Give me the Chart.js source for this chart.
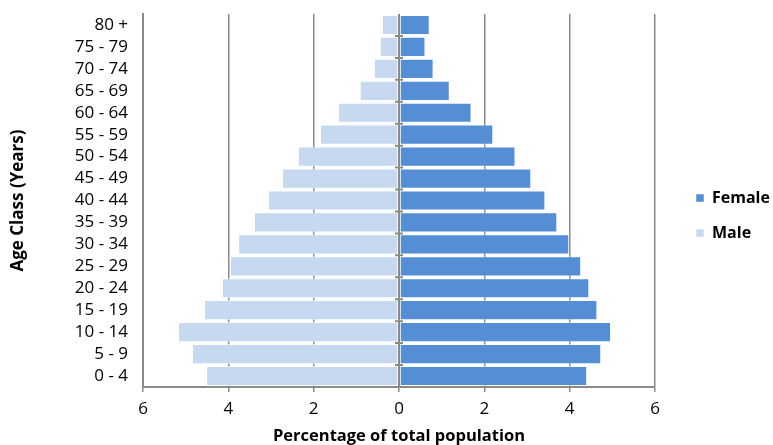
<!DOCTYPE html>
<html>
<head>
<meta charset="utf-8">
<script src="https://cdn.jsdelivr.net/npm/chart.js@4"></script>
<style>
  html, body { margin: 0; padding: 0; background: #fff; }
  #wrap { width: 773px; height: 445px; }
</style>
</head>
<body>
<div id="wrap"><canvas id="pyramid"></canvas></div>
<script>
const ageClasses = ['80 +', '75 - 79', '70 - 74', '65 - 69', '60 - 64', '55 - 59', '50 - 54', '45 - 49',
  '40 - 44', '35 - 39', '30 - 34', '25 - 29', '20 - 24', '15 - 19', '10 - 14', '5 - 9', '0 - 4'];
const female = [0.72, 0.62, 0.81, 1.19, 1.70, 2.21, 2.73, 3.10, 3.43, 3.71, 3.99, 4.27, 4.46, 4.65, 4.97, 4.74, 4.41];
const male = [0.40, 0.45, 0.59, 0.92, 1.43, 1.85, 2.37, 2.74, 3.07, 3.40, 3.77, 3.96, 4.15, 4.57, 5.18, 4.85, 4.52];
const xTicks = [-6, -4, -2, 0, 2, 4, 6];

const axisGray = '#8a8a8a';
const font = "'Open Sans', sans-serif";

// zero line with small ticks between age classes, drawn over the bars
const zeroLine = {
  id: 'zeroLine',
  afterDatasetsDraw(chart) {
    const { ctx, chartArea, scales } = chart;
    const x0 = scales.x.getPixelForValue(0);
    ctx.save();
    ctx.strokeStyle = axisGray;
    ctx.lineWidth = 2;
    ctx.beginPath();
    ctx.moveTo(x0, chartArea.top);
    ctx.lineTo(x0, chartArea.bottom);
    for (let i = 1; i < ageClasses.length; i++) {
      const y = scales.y.getPixelForValue(i - 0.5);
      ctx.moveTo(x0 - 4, y);
      ctx.lineTo(x0 + 4, y);
    }
    ctx.stroke();
    ctx.restore();
  }
};

// fixed legend width, then nudge the legend to where the original has it
const legendPlace = {
  id: 'legendPlace',
  beforeInit(chart) {
    const fit = chart.legend.fit;
    chart.legend.fit = function () {
      fit.call(this);
      this.width = 118;
    };
  },
  afterLayout(chart) {
    const lg = chart.legend;
    const w = lg.right - lg.left;
    lg.left = 696 - 19;
    lg.right = lg.left + w;
    const h = lg.bottom - lg.top;
    lg.top = 171;
    lg.bottom = lg.top + h;
  }
};

new Chart(document.getElementById('pyramid'), {
  type: 'bar',
  data: {
    labels: ageClasses,
    datasets: [
      {
        label: 'Female',
        data: female,
        backgroundColor: '#558ED5',
        borderColor: 'rgba(255,255,255,0.45)',
        borderWidth: 1,
        borderSkipped: false,
        categoryPercentage: 0.92,
        barPercentage: 1
      },
      {
        label: 'Male',
        data: male.map(v => -v),
        backgroundColor: '#C6D9F1',
        borderColor: 'rgba(255,255,255,0.6)',
        borderWidth: 1,
        borderSkipped: false,
        categoryPercentage: 0.92,
        barPercentage: 1
      }
    ]
  },
  options: {
    indexAxis: 'y',
    responsive: true,
    maintainAspectRatio: false,
    animation: false,
    layout: { padding: { top: 14, right: 0, left: 0, bottom: 0 } },
    scales: {
      x: {
        stacked: true,
        min: -6,
        max: 6,
        afterBuildTicks: s => { s.ticks = xTicks.map(v => ({ value: v })); },
        afterFit: s => { s.height = 58; },
        ticks: {
          callback: v => Math.abs(v),
          color: '#000',
          font: { family: font, size: 17 },
          padding: 7
        },
        grid: {
          color: axisGray,
          lineWidth: 1.5,
          tickLength: 5,
          tickColor: axisGray
        },
        border: { color: axisGray, width: 2 },
        title: {
          display: true,
          text: 'Percentage of total population',
          color: '#000',
          font: { family: font, size: 16.5, weight: 'bold' },
          padding: { top: 4, bottom: -1 }
        }
      },
      y: {
        stacked: true,
        afterFit: s => {
          s.width = 143;
          s.paddingTop = 0;
          s.paddingBottom = 0;
        },
        ticks: {
          autoSkip: false,
          color: '#000',
          font: { family: font, size: 17 },
          padding: 15
        },
        grid: { display: false, drawTicks: false },
        border: { color: axisGray, width: 2 },
        title: {
          display: true,
          text: 'Age Class (Years)',
          color: '#000',
          font: { family: font, size: 17, weight: 'bold' },
          padding: { top: 8, bottom: 0 }
        }
      }
    },
    plugins: {
      legend: {
        position: 'right',
        align: 'start',
        labels: {
          boxWidth: 8,
          boxHeight: 8,
          padding: 19,
          color: '#000',
          font: { family: font, size: 16, weight: 'bold' }
        }
      },
      tooltip: { enabled: false }
    }
  },
  plugins: [zeroLine, legendPlace]
});
</script>
</body>
</html>
